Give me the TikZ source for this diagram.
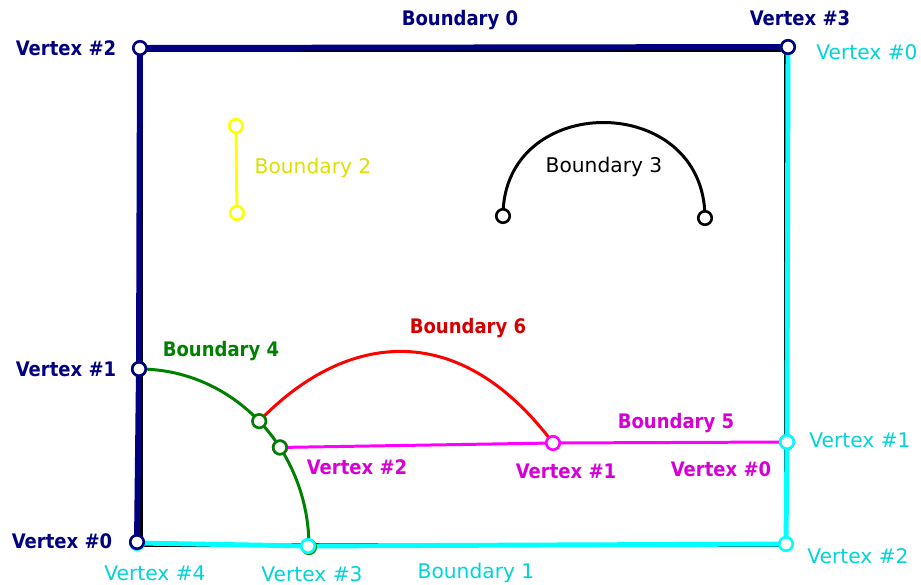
\documentclass[tikz,border=0pt]{standalone}
\usepackage{fontspec}
\setmainfont{DejaVu Sans}
\usetikzlibrary{calc,backgrounds}
\definecolor{navyb}{RGB}{0,0,128}
\definecolor{cyanb}{RGB}{0,255,255}
\definecolor{cyant}{RGB}{0,212,218}
\definecolor{yellowb}{RGB}{255,255,0}
\definecolor{yellowt}{RGB}{222,222,0}
\definecolor{greenb}{RGB}{0,128,0}
\definecolor{redb}{RGB}{255,0,0}
\definecolor{redt}{RGB}{214,0,0}
\definecolor{magb}{RGB}{255,0,255}
\definecolor{magt}{RGB}{214,0,214}
\begin{document}
\begin{tikzpicture}[
    x=0.02cm, y=-0.02cm,
    vtx/.style={circle, draw=#1, fill=white, line width=1.5pt, minimum size=0.27cm, inner sep=0pt},
    bd/.style={draw=#1, line width=1.7pt},
    lbl/.style={text=#1, font=\fontsize{11.5}{13}\selectfont},
    blbl/.style={text=#1, font=\fontsize{11.4}{13}\selectfont\bfseries\addfontfeature{FakeStretch=0.9}}
]
    \useasboundingbox (0,0) rectangle (921,585);

    % Boundary 2
    \node[vtx=yellowb] (b2v0) at (236,126) {};
    \node[vtx=yellowb] (b2v1) at (237,213) {};

    % Boundary 3
    \node[vtx=black] (b3v0) at (503,216) {};
    \node[vtx=black] (b3v1) at (705,218) {};

    % Boundary 5
    \coordinate (b4c) at (139,547);
    \node[vtx=magb] (b5v0) at (787,442) {};
    \node[vtx=magb] (b5v1) at (553,443) {};
    \node[vtx=magb] (b5v2) at ($(b4c)+(-34:170 and 178)$) {};

    % Boundary 4
    \node[vtx=greenb] (b4v0) at (139,369) {};
    \node[vtx=greenb] (b4v1) at ($(b4c)+(-45:170 and 178)$) {};
    \node[vtx=greenb] (b4v2) at ($(b4c)+(-34:170 and 178)$) {};
    \node[vtx=greenb] (b4v3) at (309,547) {};

    % Boundary 1
    \node[vtx=cyanb] (b1v0) at (788,47) {};
    \node[vtx=cyanb] (b1v1) at (787,442) {};
    \node[vtx=cyanb] (b1v2) at (786,544) {};
    \node[vtx=cyanb] (b1v3) at (308,546) {};
    \node[vtx=cyanb] (b1v4) at (137,543) {};

    % Boundary 0
    \node[vtx=navyb] (b0v0) at (137,542) {};
    \node[vtx=navyb] (b0v1) at (139,369) {};
    \node[vtx=navyb] (b0v2) at (140,48) {};
    \node[vtx=navyb] (b0v3) at (788,47) {};

    % Lines
    \begin{scope}[on background layer]
        \draw[line width=1.8pt] (141,50) rectangle (786,545);
        \draw[navyb, line width=3.4pt] (b0v0.center) -- (b0v1.center) -- (b0v2.center) -- (b0v3.center);
        \draw[cyanb, line width=2.8pt] (b1v0.center) -- (b1v1.center) -- (b1v2.center) -- (b1v3.center) -- (b1v4.center);
        \draw[bd=yellowb] (b2v0.center) -- (b2v1.center);
        \draw[bd=black] (b3v0.center) .. controls (503,91) and (705,91) .. (b3v1.center);
        \draw[bd=greenb] (b4v0.center) arc[start angle=-90, end angle=0, x radius=170, y radius=178];
        \draw[bd=magb] (b5v2.center) -- (b5v1.center) -- (b5v0.center);
        \draw[bd=redb] (b4v1.center) .. controls (342,335) and (456,314) .. (b5v1.center);
    \end{scope}

    % Labels
    \node[blbl=navyb] (t0) at (460,20) {Boundary 0};
    \node[blbl=navyb] (t0v3) at (800,18) {Vertex \#3};
    \node[blbl=navyb] (t0v2) at (66,48) {Vertex \#2};
    \node[blbl=navyb] (t0v1) at (66,369) {Vertex \#1};
    \node[blbl=navyb] (t0v0) at (62,541) {Vertex \#0};
    \node[lbl=cyant] (t1) at (476,573) {Boundary 1};
    \node[lbl=cyant] (t1v0) at (867,52) {Vertex \#0};
    \node[lbl=cyant] (t1v1) at (860,440) {Vertex \#1};
    \node[lbl=cyant] (t1v2) at (858,556) {Vertex \#2};
    \node[lbl=cyant] (t1v3) at (312,574) {Vertex \#3};
    \node[lbl=cyant] (t1v4) at (155,573) {Vertex \#4};
    \node[lbl=yellowt] (t2) at (313,168) {Boundary 2};
    \node[lbl=black] (t3) at (604,167) {Boundary 3};
    \node[blbl=greenb] (t4) at (221,351) {Boundary 4};
    \node[blbl=magt] (t5) at (676,423) {Boundary 5};
    \node[blbl=magt] (t5v0) at (721,469) {Vertex \#0};
    \node[blbl=magt] (t5v1) at (566,471) {Vertex \#1};
    \node[blbl=magt] (t5v2) at (357,467) {Vertex \#2};
    \node[blbl=redt] (t6) at (468,328) {Boundary 6};
\end{tikzpicture}
\end{document}
